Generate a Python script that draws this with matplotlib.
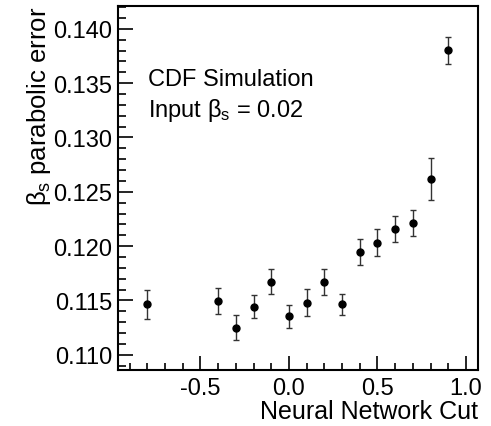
import matplotlib
matplotlib.use("Agg")
import matplotlib.pyplot as plt
from matplotlib.ticker import MultipleLocator, FormatStrFormatter

plt.rcParams['font.family'] = ['Liberation Sans', 'DejaVu Sans']
plt.rcParams['mathtext.fontset'] = 'custom'
plt.rcParams['mathtext.rm'] = 'Liberation Sans'
plt.rcParams['mathtext.it'] = 'Liberation Sans'

nn_cut = [-0.8, -0.4, -0.3, -0.2, -0.1, 0.0, 0.1, 0.2, 0.3, 0.4, 0.5, 0.6, 0.7, 0.8, 0.9]
beta_err = [0.11463, 0.11497, 0.11251, 0.11442, 0.11672, 0.11353, 0.11479, 0.11672,
            0.11463, 0.11946, 0.12031, 0.12157, 0.12213, 0.12621, 0.13802]
beta_err_unc = [0.00135, 0.00118, 0.00112, 0.00108, 0.00113, 0.00104, 0.00124, 0.00120,
                0.00101, 0.00120, 0.00124, 0.00120, 0.00122, 0.00193, 0.00126]

fig = plt.figure(figsize=(4.91, 4.27), dpi=100)
ax = fig.add_axes([118/491, 1-371/427, (478-118)/491, (371-7)/427])

ax.errorbar(nn_cut, beta_err, yerr=beta_err_unc, fmt='o', color='black', ms=5,
            ecolor='#333333', elinewidth=1, capsize=2.5, capthick=1)

ax.set_xlim(-0.966, 1.068)
ax.set_ylim(0.1086, 0.1421)

ax.xaxis.set_major_locator(MultipleLocator(0.5))
ax.xaxis.set_minor_locator(MultipleLocator(0.1))
ax.yaxis.set_major_locator(MultipleLocator(0.005))
ax.yaxis.set_minor_locator(MultipleLocator(0.001))
ax.xaxis.set_major_formatter(FormatStrFormatter('%.1f'))
ax.yaxis.set_major_formatter(FormatStrFormatter('%.3f'))

ax.tick_params(which='both', direction='in', top=False, right=False, labelsize=17, width=1.2)
ax.tick_params(axis='y', which='major', length=11, pad=4)
ax.tick_params(axis='y', which='minor', length=6)
ax.tick_params(axis='x', which='major', length=10, pad=5)
ax.tick_params(axis='x', which='minor', length=5)
for s in ax.spines.values():
    s.set_linewidth(1.5)

ax.set_xlabel('Neural Network Cut', fontsize=18, loc='right', labelpad=0)
ax.set_ylabel(r'$\beta_{\rm s}$ parabolic error', fontsize=18.5, loc='top', labelpad=0)

ax.text(0.083, 0.80, 'CDF Simulation', transform=ax.transAxes, fontsize=17, va='center')
ax.text(0.083, 0.716, r'Input $\beta_{\rm s}$ = 0.02', transform=ax.transAxes, fontsize=17, va='center')

fig.savefig('out.png', dpi=100)
